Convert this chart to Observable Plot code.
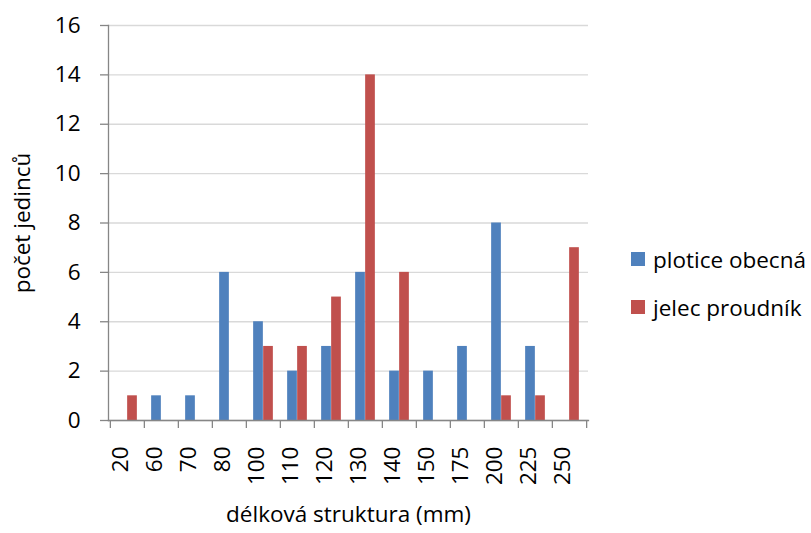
<!DOCTYPE html>
<html>
<head>
<meta charset="utf-8">
<script src="https://cdn.jsdelivr.net/npm/d3@7"></script>
<script src="https://cdn.jsdelivr.net/npm/@observablehq/plot@0.6"></script>
<style>
  html, body { margin: 0; padding: 0; background: #fff; overflow: hidden; }
  #wrap { position: relative; width: 811px; height: 533px; font-family: "Open Sans", sans-serif; }
  .legend { position: absolute; left: 631px; height: 20px; font-size: 22.5px; color: #000; white-space: nowrap; display: flex; align-items: center; }
  .legend span.sw { display: inline-block; width: 14px; height: 14px; margin-right: 8px; }
</style>
</head>
<body>
<div id="wrap"></div>
<script>
// Length classes (mm) and fish counts per class
const categories = ["20", "60", "70", "80", "100", "110", "120", "130", "140", "150", "175", "200", "225", "250"];
const plotice = [0, 1, 1, 6, 4, 2, 3, 6, 2, 2, 3, 8, 3, 0];
const jelec   = [1, 0, 0, 0, 3, 3, 5, 14, 6, 0, 0, 1, 1, 7];
const seriesNames = ["plotice obecná", "jelec proudník"];
const seriesColors = ["#4F81BD", "#C0504D"];
const yTicks = [0, 2, 4, 6, 8, 10, 12, 14, 16];

const W = 811, H = 533;
const mL = 108, mR = 223, mT = 25, mB = 113;
const band = (W - mL - mR) / categories.length;
const barW = 10;
const fs = 22.5;

const bluePts = categories.map((c, i) => ({cat: c, v: plotice[i]}));
const redPts = categories.map((c, i) => ({cat: c, v: jelec[i]}));

const axisColor = "#868686";

const chart = Plot.plot({
  width: W,
  height: H,
  marginLeft: mL,
  marginRight: mR,
  marginTop: mT,
  marginBottom: mB,
  style: {fontFamily: "'Open Sans', sans-serif", fontSize: fs + "px", color: "#000", background: "#fff"},
  x: {type: "band", domain: categories, padding: 0},
  y: {domain: [0, 16]},
  marks: [
    Plot.gridY(yTicks, {stroke: "#D9D9D9", strokeOpacity: 1, strokeWidth: 1.3}),
    Plot.barY(bluePts, {x: "cat", y: "v", fill: seriesColors[0], insetLeft: band / 2 - barW, insetRight: band / 2}),
    Plot.barY(redPts, {x: "cat", y: "v", fill: seriesColors[1], insetLeft: band / 2, insetRight: band / 2 - barW}),
    // value axis
    Plot.axisY({ticks: yTicks, tickSize: 8, tickPadding: 20, stroke: axisColor, fill: "#000", strokeWidth: 1.3, fontSize: fs, label: null}),
    Plot.frame({anchor: "left", stroke: axisColor, strokeWidth: 1.3}),
    // category axis: ticks sit on the category boundaries
    Plot.frame({anchor: "bottom", stroke: axisColor, strokeWidth: 1.3}),
    Plot.axisX({ticks: categories, tickSize: 8, text: null, dx: -band / 2, stroke: axisColor, strokeWidth: 1.3, label: null}),
    Plot.axisX({ticks: categories.slice(-1), tickSize: 8, text: null, dx: band / 2, stroke: axisColor, strokeWidth: 1.3, label: null}),
    Plot.text(categories, {x: d => d, frameAnchor: "bottom", dy: 26, rotate: -90, textAnchor: "end", fill: "#000", fontSize: fs}),
    // axis titles
    Plot.text(["délková struktura (mm)"], {frameAnchor: "bottom", dy: 101, fill: "#000", fontSize: fs}),
    Plot.text(["počet jedinců"], {frameAnchor: "left", dx: -86, rotate: -90, textAnchor: "middle", fill: "#000", fontSize: fs})
  ]
});

const wrap = document.getElementById("wrap");
wrap.appendChild(chart);

// legend to the right of the plot
const legendTops = [249, 297];
seriesNames.forEach((name, i) => {
  const row = document.createElement("div");
  row.className = "legend";
  row.style.top = legendTops[i] + "px";
  const sw = document.createElement("span");
  sw.className = "sw";
  sw.style.background = seriesColors[i];
  row.appendChild(sw);
  row.appendChild(document.createTextNode(name));
  wrap.appendChild(row);
});
</script>
</body>
</html>
